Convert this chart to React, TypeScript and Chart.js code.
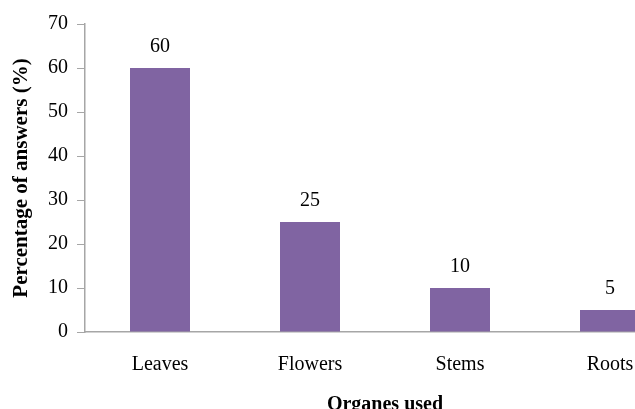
import React, { useEffect, useRef } from "react";
import { Chart, registerables } from "chart.js";

Chart.register(...registerables);

const categories = ["Leaves", "Flowers", "Stems", "Roots"];
const percentages = [60, 25, 10, 5];
const yTicks = [0, 10, 20, 30, 40, 50, 60, 70];

const SERIF = "'Liberation Serif', 'Times New Roman', serif";
const BAR_COLOR = "#8064A2";
const AXIS_COLOR = "#A6A6A6";

// Writes each bar's value just above it
const valueLabels = {
  id: "valueLabels",
  afterDatasetsDraw(chart: any) {
    const { ctx } = chart;
    const meta = chart.getDatasetMeta(0);
    ctx.save();
    ctx.fillStyle = "#000";
    ctx.font = `20px ${SERIF}`;
    ctx.textAlign = "center";
    ctx.textBaseline = "middle";
    meta.data.forEach((bar: any, i: number) => {
      ctx.fillText(String(chart.data.datasets[0].data[i]), bar.x, bar.y - 21);
    });
    ctx.restore();
  },
};

export default function App() {
  const ref = useRef<HTMLCanvasElement>(null);

  useEffect(() => {
    if (!ref.current) return;
    const chart = new Chart(ref.current, {
      type: "bar",
      data: {
        labels: categories,
        datasets: [
          {
            data: percentages,
            backgroundColor: BAR_COLOR,
            borderWidth: 0,
            barPercentage: 0.4,
            categoryPercentage: 1,
          },
        ],
      },
      options: {
        responsive: false,
        animation: false,
        layout: { padding: { top: 24, right: 15, left: 0, bottom: 0 } },
        plugins: {
          legend: { display: false },
          tooltip: { enabled: false },
        },
        scales: {
          x: {
            grid: { display: false },
            border: { display: true, color: AXIS_COLOR, width: 1.5 },
            ticks: {
              color: "#000",
              font: { family: SERIF, size: 20 },
              padding: 13,
              maxRotation: 0,
            },
            title: {
              display: true,
              text: "Organes used",
              color: "#000",
              font: { family: SERIF, size: 20, weight: "bold" },
              padding: { top: 0, bottom: 3 },
            },
            afterFit(scale: any) {
              scale.height = 420 - 332;
            },
          },
          y: {
            min: 0,
            max: 70,
            afterBuildTicks(scale: any) {
              scale.ticks = yTicks.map((v) => ({ value: v }));
            },
            grid: {
              drawOnChartArea: false,
              drawTicks: true,
              tickLength: 8,
              color: AXIS_COLOR,
            },
            border: { display: true, color: AXIS_COLOR, width: 1.5 },
            ticks: {
              color: "#000",
              font: { family: SERIF, size: 20 },
              padding: 9,
            },
            title: {
              display: true,
              text: "Percentage of answers (%)",
              color: "#000",
              font: { family: SERIF, size: 21, weight: "bold" },
              padding: { top: 9, bottom: 0 },
            },
            afterFit(scale: any) {
              scale.width = 85;
            },
          },
        },
      },
      plugins: [valueLabels],
    });
    return () => chart.destroy();
  }, []);

  return (
    <div
      style={{
        position: "fixed",
        left: 0,
        top: 0,
        width: 635,
        height: 409,
        overflow: "hidden",
        background: "#fff",
      }}
    >
      <canvas ref={ref} width={700} height={420} style={{ display: "block" }} />
    </div>
  );
}
